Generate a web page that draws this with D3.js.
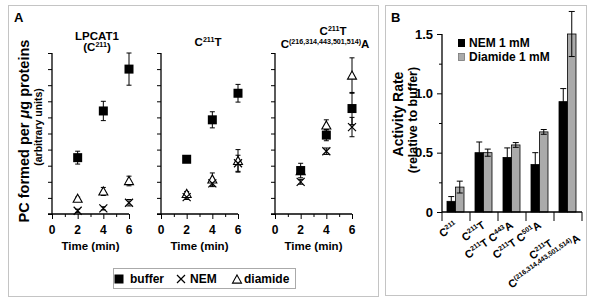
<!DOCTYPE html>
<html>
<head>
<meta charset="utf-8">
<script src="https://cdn.jsdelivr.net/npm/d3@7"></script>
<style>
  body { margin: 0; background: #fff; }
  svg { font-family: "Liberation Sans", Arial, Helvetica, sans-serif; font-weight: bold; }
</style>
</head>
<body>
<svg id="chart" width="600" height="305"></svg>
<script>
// ---- data: panel A (time course, arbitrary units) ----
var times = [2, 4, 6];
var timeTicks = [0, 2, 4, 6];
var bufferMeans  = [[3.5, 6.4, 9.0], [3.4, 5.85, 7.5], [2.7, 4.9, 6.55]];
var bufferErr    = [[0.4, 0.6, 1.0], [0.15, 0.5, 0.55], [0.45, 0.35, 1.0]];
var nemMeans     = [[0.2, 0.35, 0.7], [1.05, 1.9, 3.15], [2.0, 3.9, 5.4]];
var nemErr       = [[0.1, 0.1, 0.2], [0.15, 0.2, 0.5], [0.15, 0.2, 0.6]];
var diamideMeans = [[0.95, 1.4, 2.05], [1.25, 2.15, 3.3], [2.67, 5.5, 8.6]];
var diamideErr   = [[0.1, 0.25, 0.3], [0.15, 0.4, 0.7], [0.15, 0.35, 1.1]];

// ---- data: panel B (activity relative to buffer) ----
var bCategories = ['C211', 'C211T', 'C211T C443A', 'C211T C501A', 'C211T C(216..514)A'];
var nemRate      = [0.09, 0.50, 0.46, 0.40, 0.93];
var nemRateErr   = [0.04, 0.09, 0.08, 0.10, 0.11];
var diamideRate    = [0.21, 0.50, 0.565, 0.675, 1.50];
var diamideRateErr = [0.05, 0.03, 0.02, 0.02, 0.19];
var bTicks = [0, 0.5, 1.0, 1.5];
var bTickLabels = ['0', '0.5', '1.0', '1.5'];

var svg = d3.select('#chart');

/**
 * Appends text parts to a text element, arrays are drawn as superscripts
 */
var rich = function(textSel, parts, fs) {
	var up = false;
	parts.forEach(function(p) {
		var isSup = Array.isArray(p);
		var t = textSel.append('tspan').text(isSup ? p[0] : p);
		if (isSup) {
			t.attr('font-size', fs * 0.62);
			if (!up) { t.attr('dy', -fs * 0.38); up = true; }
		} else if (up) {
			t.attr('dy', fs * 0.38);
			up = false;
		}
	});
	return textSel;
};

// frames
svg.append('rect').attr('x', 8.5).attr('y', 5.5).attr('width', 370).attr('height', 291)
	.attr('fill', 'none').attr('stroke', '#c4c4c4');
svg.append('rect').attr('x', 385.5).attr('y', 5.5).attr('width', 201).attr('height', 290)
	.attr('fill', 'none').attr('stroke', '#c4c4c4');

svg.append('text').attr('x', 14).attr('y', 22).attr('font-size', 13).text('A');
svg.append('text').attr('x', 391).attr('y', 22).attr('font-size', 13).text('B');

// ================= Panel A =================
var y = d3.scaleLinear().domain([0, 10]).range([214, 53]);
var panelX0 = [52, 161, 275];
var panelTitles = [
	{lines: [['LPCAT1'], ['(C', ['211'], ')']], cx: [97, 97], y: [40, 51]},
	{lines: [['C', ['211'], 'T']], cx: [208], y: [46]},
	{lines: [['C', ['211'], 'T'], ['C', ['(216,314,443,501,514)'], 'A']], cx: [333, 325], y: [35, 48]}
];

var drawCross = function(g, cx, cy) {
	var s = 4;
	g.append('path').attr('d', 'M' + (cx - s) + ',' + (cy - s) + 'L' + (cx + s) + ',' + (cy + s) +
		'M' + (cx - s) + ',' + (cy + s) + 'L' + (cx + s) + ',' + (cy - s))
		.attr('stroke', '#000').attr('stroke-width', 1.2).attr('fill', 'none');
};
var drawTriangle = function(g, cx, cy) {
	var s = 4.5;
	g.append('path').attr('d', 'M' + cx + ',' + (cy - s) + 'L' + (cx + s) + ',' + (cy + s * 0.8) +
		'L' + (cx - s) + ',' + (cy + s * 0.8) + 'Z')
		.attr('stroke', '#000').attr('stroke-width', 1.1).attr('fill', '#fff');
};
var drawSquare = function(g, cx, cy) {
	g.append('rect').attr('x', cx - 4.5).attr('y', cy - 4.5).attr('width', 9).attr('height', 9).attr('fill', '#000');
};
var drawErr = function(g, cx, v, e) {
	var g2 = g.append('g').attr('stroke', '#000').attr('stroke-width', 1);
	g2.append('line').attr('x1', cx).attr('x2', cx).attr('y1', y(v - e)).attr('y2', y(v + e));
	[v - e, v + e].forEach(function(w) {
		g2.append('line').attr('x1', cx - 2.5).attr('x2', cx + 2.5).attr('y1', y(w)).attr('y2', y(w));
	});
};

panelX0.forEach(function(x0, p) {
	var x = d3.scaleLinear().domain([0, 6]).range([x0, x0 + 77]);
	var g = svg.append('g');

	// y axis with ticks (no labels)
	g.append('g').attr('transform', 'translate(' + x0 + ',0)')
		.call(d3.axisLeft(y).ticks(10).tickSize(4).tickFormat(''))
		.call(function(a) { a.select('.domain').attr('d', 'M0,' + y(10) + 'V' + y(0)).attr('stroke-width', 1.3); });

	// x axis: major and minor ticks
	var xa = g.append('g').attr('transform', 'translate(0,' + y(0) + ')');
	xa.call(d3.axisBottom(x).tickValues(d3.range(0, 7)).tickSize(4).tickFormat(''));
	xa.select('.domain').attr('d', 'M' + (x0 - 4) + ',0H' + x(6)).attr('stroke-width', 1.3);
	xa.selectAll('.tick line').attr('y2', function(d) { return d % 2 === 0 ? 5 : 3; });
	timeTicks.forEach(function(t) {
		g.append('text').attr('x', x(t)).attr('y', 234).attr('text-anchor', 'middle')
			.attr('font-size', 12).text(t);
	});
	g.append('text').attr('x', x(3)).attr('y', 250).attr('text-anchor', 'middle')
		.attr('font-size', 11.5).text('Time (min)');

	// title
	var tt = panelTitles[p];
	tt.lines.forEach(function(parts, i) {
		rich(g.append('text').attr('x', tt.cx[i]).attr('y', tt.y[i])
			.attr('text-anchor', 'middle').attr('font-size', 11.5), parts, 11.5);
	});

	// points
	times.forEach(function(t, i) {
		drawErr(g, x(t), bufferMeans[p][i], bufferErr[p][i]);
		drawErr(g, x(t), nemMeans[p][i], nemErr[p][i]);
		drawErr(g, x(t), diamideMeans[p][i], diamideErr[p][i]);
	});
	times.forEach(function(t, i) {
		drawTriangle(g, x(t), y(diamideMeans[p][i]));
		drawCross(g, x(t), y(nemMeans[p][i]));
		drawSquare(g, x(t), y(bufferMeans[p][i]));
	});
});

// y label panel A
var yl = svg.append('text').attr('transform', 'translate(29,131) rotate(-90)').attr('text-anchor', 'middle')
	.attr('font-size', 14.5);
yl.append('tspan').text('PC formed per ');
yl.append('tspan').attr('font-style', 'italic').text('\u03BC');
yl.append('tspan').text('g proteins');
svg.append('text').attr('transform', 'translate(42,127) rotate(-90)').attr('text-anchor', 'middle')
	.attr('font-size', 10.5).text('(arbitrary units)');

// legend panel A
svg.append('rect').attr('x', 113.5).attr('y', 268.5).attr('width', 182).attr('height', 20)
	.attr('fill', 'none').attr('stroke', '#aaa');
drawSquare(svg, 119, 279);
svg.append('text').attr('x', 130).attr('y', 283).attr('font-size', 12).text('buffer');
drawCross(svg, 181, 279);
svg.append('text').attr('x', 190).attr('y', 283).attr('font-size', 12).text('NEM');
drawTriangle(svg, 237, 279.5);
svg.append('text').attr('x', 244).attr('y', 283).attr('font-size', 12).text('diamide');

// ================= Panel B =================
var yb = d3.scaleLinear().domain([0, 1.5]).range([212, 34]);
var xb = d3.scaleBand().domain(bCategories).range([442, 582]);
var gb = svg.append('g');

gb.append('g').attr('transform', 'translate(442,0)')
	.call(d3.axisLeft(yb).tickValues(d3.range(0, 1.51, 0.25)).tickSize(5).tickFormat(''))
	.call(function(a) {
		a.select('.domain').attr('d', 'M0,' + yb(1.5) + 'V' + yb(0)).attr('stroke-width', 1.3);
		a.selectAll('.tick line').attr('x2', function(d) { return Math.abs(d * 2 - Math.round(d * 2)) < 1e-6 ? -5 : -3; });
	});
bTicks.forEach(function(t, i) {
	gb.append('text').attr('x', 433).attr('y', yb(t) + 4.5).attr('text-anchor', 'end')
		.attr('font-size', 13).text(bTickLabels[i]);
});

var bw = 8.5;
bCategories.forEach(function(c, i) {
	var cx = xb(c) + xb.bandwidth() / 2 - 0.5;
	gb.append('rect').attr('x', cx - bw).attr('y', yb(nemRate[i])).attr('width', bw)
		.attr('height', yb(0) - yb(nemRate[i])).attr('fill', '#000').attr('stroke', '#000').attr('stroke-width', 0.8);
	gb.append('rect').attr('x', cx).attr('y', yb(diamideRate[i])).attr('width', bw)
		.attr('height', yb(0) - yb(diamideRate[i])).attr('fill', '#aaa').attr('stroke', '#000').attr('stroke-width', 0.8);
	[[cx - bw / 2, nemRate[i], nemRateErr[i]], [cx + bw / 2, diamideRate[i], diamideRateErr[i]]].forEach(function(e) {
		var ge = gb.append('g').attr('stroke', '#000').attr('stroke-width', 1);
		ge.append('line').attr('x1', e[0]).attr('x2', e[0]).attr('y1', yb(e[1] - e[2])).attr('y2', yb(e[1] + e[2]));
		[e[1] - e[2], e[1] + e[2]].forEach(function(w) {
			ge.append('line').attr('x1', e[0] - 3).attr('x2', e[0] + 3).attr('y1', yb(w)).attr('y2', yb(w));
		});
	});
});

// x axis panel B with boundary ticks
var xaB = gb.append('g').attr('stroke', '#000').attr('stroke-width', 1.3);
xaB.append('line').attr('x1', 442).attr('x2', 582).attr('y1', yb(0)).attr('y2', yb(0));
bCategories.forEach(function(c) {
	xaB.append('line').attr('x1', xb(c) + xb.bandwidth()).attr('x2', xb(c) + xb.bandwidth())
		.attr('y1', yb(0)).attr('y2', yb(0) + 9).attr('stroke-width', 1);
});
xaB.append('line').attr('x1', 442).attr('x2', 442).attr('y1', yb(0)).attr('y2', yb(0) + 9).attr('stroke-width', 1);

var bLabelParts = [
	[['C', ['211']]],
	[['C', ['211'], 'T']],
	[['C', ['211'], 'T C', ['443'], 'A']],
	[['C', ['211'], 'T C', ['501'], 'A']],
	[['C', ['211'], 'T'], ['C', ['(216,314,443,501,514)'], 'A']]
];
var bfs = 11;
var ang = -35;
bCategories.forEach(function(c, i) {
	var cx = xb(c) + xb.bandwidth() / 2;
	var lines = bLabelParts[i];
	if (lines.length === 1) {
		var lg = gb.append('g').attr('transform', 'translate(' + (cx + 2) + ',' + (yb(0) + 15) + ') rotate(' + ang + ')');
		rich(lg.append('text').attr('text-anchor', 'end').attr('font-size', bfs), lines[0], bfs);
	} else {
		var lg2 = gb.append('g').attr('transform', 'translate(' + (cx + 13) + ',' + (yb(0) + 28) + ') rotate(' + ang + ')');
		var t2 = rich(lg2.append('text').attr('text-anchor', 'end').attr('font-size', bfs), lines[1], bfs);
		var w2 = t2.node().getComputedTextLength();
		rich(lg2.append('text').attr('text-anchor', 'middle').attr('x', -w2 / 2 + 4).attr('y', -11.5).attr('font-size', bfs), lines[0], bfs);
	}
});

// y label panel B
svg.append('text').attr('transform', 'translate(403,114) rotate(-90)').attr('text-anchor', 'middle')
	.attr('font-size', 14).text('Activity Rate');
svg.append('text').attr('transform', 'translate(417,120) rotate(-90)').attr('text-anchor', 'middle')
	.attr('font-size', 12.5).text('(relative to buffer)');

// legend panel B
gb.append('rect').attr('x', 458).attr('y', 39).attr('width', 7).attr('height', 8).attr('fill', '#000');
gb.append('text').attr('x', 469).attr('y', 47).attr('font-size', 12).text('NEM 1 mM');
gb.append('rect').attr('x', 458.5).attr('y', 53.5).attr('width', 6).attr('height', 7).attr('fill', '#aaa').attr('stroke', '#777').attr('stroke-width', 0.8);
gb.append('text').attr('x', 469).attr('y', 61).attr('font-size', 12).text('Diamide 1 mM');
</script>
</body>
</html>
